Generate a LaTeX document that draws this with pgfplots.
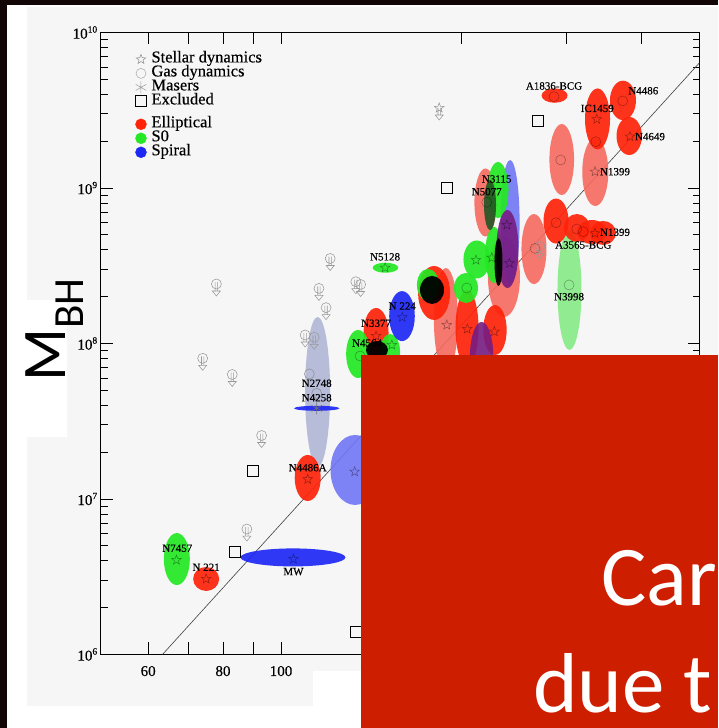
\documentclass[border=0pt]{standalone}
\usepackage{fontspec}
\setmainfont{Liberation Serif}[FakeBold=0.35]
\newfontfamily\carlito{Carlito}
\usepackage{pgfplots}
\pgfplotsset{compat=1.18}
\usetikzlibrary{plotmarks}
\definecolor{darkbg}{RGB}{18,6,6}
\definecolor{panel}{RGB}{246,246,246}
\definecolor{slidered}{RGB}{205,30,0}
\definecolor{elred}{RGB}{255,35,10}
\definecolor{salmon}{RGB}{245,106,95}
\definecolor{sogreen}{RGB}{35,232,35}
\definecolor{lgreen}{RGB}{140,235,140}
\definecolor{spblue}{RGB}{30,40,245}
\definecolor{medblue}{RGB}{112,118,245}
\definecolor{bgrey}{RGB}{180,185,216}
\definecolor{purp}{RGB}{118,28,130}
\definecolor{dkgreen}{RGB}{35,85,35}
\pgfdeclareplotmark{ell}{\pgfpathellipse{\pgfpointorigin}{\pgfqpoint{\rx pt}{0pt}}{\pgfqpoint{0pt}{\ry pt}}\pgfusepathqfill}
\pgfdeclareplotmark{ostar}{%
  \pgfpathmoveto{\pgfpointpolar{90}{\pgfplotmarksize}}%
  \pgfpathlineto{\pgfpointpolar{126}{0.42\pgfplotmarksize}}%
  \pgfpathlineto{\pgfpointpolar{162}{\pgfplotmarksize}}%
  \pgfpathlineto{\pgfpointpolar{198}{0.42\pgfplotmarksize}}%
  \pgfpathlineto{\pgfpointpolar{234}{\pgfplotmarksize}}%
  \pgfpathlineto{\pgfpointpolar{270}{0.42\pgfplotmarksize}}%
  \pgfpathlineto{\pgfpointpolar{306}{\pgfplotmarksize}}%
  \pgfpathlineto{\pgfpointpolar{342}{0.42\pgfplotmarksize}}%
  \pgfpathlineto{\pgfpointpolar{18}{\pgfplotmarksize}}%
  \pgfpathlineto{\pgfpointpolar{54}{0.42\pgfplotmarksize}}%
  \pgfpathclose\pgfusepathqstroke}
\pgfdeclareplotmark{ulim}{%
  \pgfpathcircle{\pgfpointorigin}{5pt}\pgfusepathqstroke
  \pgfpathmoveto{\pgfqpoint{-1.2pt}{2pt}}\pgfpathlineto{\pgfqpoint{-1.2pt}{-7pt}}%
  \pgfpathmoveto{\pgfqpoint{1.2pt}{2pt}}\pgfpathlineto{\pgfqpoint{1.2pt}{-7pt}}%
  \pgfpathmoveto{\pgfqpoint{-4pt}{-7pt}}\pgfpathlineto{\pgfqpoint{0pt}{-12pt}}\pgfpathlineto{\pgfqpoint{4pt}{-7pt}}\pgfpathclose
  \pgfusepathqstroke}
\pgfdeclareplotmark{sulim}{%
  \pgfuseplotmark{ostar}%
  \pgfpathmoveto{\pgfqpoint{-1.2pt}{0pt}}\pgfpathlineto{\pgfqpoint{-1.2pt}{-7pt}}%
  \pgfpathmoveto{\pgfqpoint{1.2pt}{0pt}}\pgfpathlineto{\pgfqpoint{1.2pt}{-7pt}}%
  \pgfpathmoveto{\pgfqpoint{-4pt}{-7pt}}\pgfpathlineto{\pgfqpoint{0pt}{-12pt}}\pgfpathlineto{\pgfqpoint{4pt}{-7pt}}\pgfpathclose
  \pgfusepathqstroke}
\newcommand\tp[1]{10\raisebox{6pt}{\fontsize{9.5}{9.5}\selectfont #1}}
\pgfplotsset{
  ellp/.style={only marks, scatter, mark=ell, forget plot,
    visualization depends on={value \thisrow{rx}\as\rx},
    visualization depends on={value \thisrow{ry}\as\ry},
    scatter/use mapped color={draw=none, fill=#1}},
}
\tikzset{lab/.style={font=\fontsize{11}{11}\selectfont, inner sep=0pt}}
\begin{document}
\begin{tikzpicture}[x=1pt,y=1pt]
\path[use as bounding box] (0,0) rectangle (718,728);
\fill[white] (0,0) rectangle (718,728);
\fill[darkbg] (0,0) rectangle (7,728);
\fill[darkbg] (0,723) rectangle (718,728);
\fill[panel] (27,22) rectangle (718,721);
\fill[white] (313,0) rectangle (361,57);
\fill[white] (27,291) rectangle (67,428);
\begin{axis}[
  at={(100.7pt,73.5pt)}, anchor=south west,
  scale only axis, width=599pt, height=622pt,
  xmode=log, ymode=log,
  xmin=50, xmax=500, ymin=1e6, ymax=1e10,
  xtick={60,70,80,90,100,200,300,400},
  xticklabels={60,,80,,100,,,},
  xminorticks=false,
  ytick={1e6,1e7,1e8,1e9,1e10},
  yticklabels={\tp{6},\tp{7},\tp{8},\tp{9},\tp{10}},
  minor ytick={2e6,3e6,4e6,5e6,6e6,7e6,8e6,9e6,2e7,3e7,4e7,5e7,6e7,7e7,8e7,9e7,2e8,3e8,4e8,5e8,6e8,7e8,8e8,9e8,2e9,3e9,4e9,5e9,6e9,7e9,8e9,9e9},
  tick align=inside,
  major tick length=12pt, minor tick length=7pt,
  every tick/.style={black, line width=0.8pt},
  axis line style={line width=0.9pt},
  tick label style={font=\fontsize{15}{15}\selectfont},
  xticklabel style={yshift=-8pt},
  legend style={at={(rel axis cs:0.053,0.968)}, anchor=north west, draw=none, fill=none,
    inner sep=0pt, outer sep=0pt, row sep=0pt,
    font=\fontsize{16.5}{16.5}\selectfont,
    nodes={inner sep=0pt, text height=10pt, text depth=4pt},
    /tikz/every odd column/.append style={column sep=5pt}},
  legend cell align=left,
]
% light / large ellipses
\addplot[ellp=bgrey, fill opacity=0.95] table {
x y rx ry
115.1 4.88e7 12.5 75
};
\addplot[ellp=lgreen, fill opacity=0.95] table {
x y rx ry
303.1 2.21e8 12 60
};
\addplot[ellp=salmon, fill opacity=0.9] table {
x y rx ry
188.5 1.416e8 12 52
235.6 2.677e8 16 40
264.4 4.05e8 12.5 35
294.2 1.525e9 12.3 35.5
334.7 1.267e9 13 34
219.4 8.07e8 11 34
};
\addplot[ellp=medblue, fill opacity=0.9] table {
x y rx ry
241.2 6.04e8 9.5 62
132.9 1.537e7 24.5 35
};
\addplot[ellp=elred, fill opacity=0.92] table {
x y rx ry
75.0 3.06e6 13 12
110.8 1.365e7 13 23
144.1 1.168e8 12.5 25
180.1 2.113e8 16 27
204.4 1.258e8 11.5 38
227.6 1.221e8 11.7 25
287.8 6.13e8 12.5 22.5
311.9 5.53e8 13 14
330.5 5.21e8 15 12
344.8 5.14e8 13 12
337.6 2.78e9 12.5 30.5
286.2 3.93e9 13 7.2
372.3 3.66e9 13 19.7
381.4 2.16e9 12.7 19
};
\addplot[ellp=sogreen, fill opacity=0.92] table {
x y rx ry
67.0 4.11e6 13 26
149.4 3.07e8 12.8 5
134.5 8.56e7 12 24
152.1 8.82e7 10 18
203.6 2.275e8 12 15
212.2 3.47e8 13.3 19
226.8 3.71e8 9 28
230.3 9.71e8 10.5 28
175.9 2.38e8 11 16
};
\addplot[ellp=spblue, fill opacity=0.92] table {
x y rx ry
104.7 4.21e6 52.5 9
159.2 1.50e8 12.8 25
114.7 3.83e7 22.7 2.5
};
\addplot[ellp=purp, fill opacity=0.9] table {
x y rx ry
238.8 4.05e8 11 39
216.2 8.19e7 11.7 35
};
\addplot[ellp=black, fill opacity=0.95] table {
x y rx ry
178.7 2.21e8 12 14
144.6 9.08e7 11 9
230.7 3.34e8 4 24
};
\addplot[ellp=dkgreen, fill opacity=0.9] table {
x y rx ry
223.3 7.78e8 6 25
};
% fit line
\addplot[forget plot, black!75, line width=0.6pt] coordinates {(63.4,1e6) (500,6.41e9)};
% stars on ellipses
\addplot[forget plot, only marks, mark=ostar, mark size=5pt, draw=black, draw opacity=0.4, line width=0.5pt] table {
x y
66.9 4.05e6
75.0 3.06e6
104.9 4.11e6
110.8 1.339e7
132.7 1.498e7
149.2 3.07e8
159.4 1.474e8
144.1 1.117e8
153.1 9.78e7
211.6 3.44e8
224.8 3.56e8
240.6 3.28e8
238.2 5.78e8
189.1 1.315e8
204.6 1.239e8
227.1 1.191e8
336.5 2.77e9
334.3 1.273e9
382.4 2.14e9
334.3 5.11e8
};
% circles on ellipses
\addplot[forget plot, only marks, mark=o, mark size=5pt, draw=black, draw opacity=0.35, line width=0.5pt] table {
x y
135.5 8.31e7
204.2 2.275e8
220.5 8.09e8
265.5 4.09e8
287.8 5.98e8
302.6 2.38e8
293.0 1.514e9
285.6 3.87e9
371.9 3.63e9
335.3 1.985e9
311.6 5.45e8
319.6 5.24e8
};
% gas dynamics (grey circles)
\addplot[forget plot, only marks, mark=o, mark size=5pt, draw=black!45, line width=0.5pt] table {
x y
111.5 6.37e7
114.7 4.78e7
};
% maser
\addplot[forget plot, only marks, mark=asterisk, mark size=6pt, draw=black!55, line width=0.5pt] coordinates {(114.7,3.83e7)};
% upper limits
\addplot[forget plot, only marks, mark=ulim, draw=black!40, line width=0.55pt] table {
x y
78.0 2.413e8
74.0 8.03e7
82.9 6.32e7
92.8 2.56e7
87.7 6.41e6
120.8 3.52e8
115.7 2.26e8
118.9 1.70e8
109.7 1.134e8
113.6 1.096e8
133.3 2.497e8
135.8 2.396e8
270.6 4.19e8
};
\addplot[forget plot, only marks, mark=sulim, mark size=5pt, draw=black!40, line width=0.55pt] coordinates {(183.7,3.27e9)};
% excluded
\addplot[forget plot, only marks, mark=square, mark size=5.5pt, draw=black, line width=0.9pt] table {
x y
189.3 1.0e9
268.3 2.71e9
89.9 1.514e7
83.8 4.54e6
133.5 1.40e6
};
% label anchors
\coordinate (L1) at (axis cs:67.1,4.82e6);
\coordinate (L2) at (axis cs:75.0,3.64e6);
\coordinate (L3) at (axis cs:104.9,3.41e6);
\coordinate (L4) at (axis cs:110.8,1.59e7);
\coordinate (L5) at (axis cs:114.7,5.55e7);
\coordinate (L6) at (axis cs:114.7,4.48e7);
\coordinate (L7) at (axis cs:149.2,3.61e8);
\coordinate (L8) at (axis cs:159.4,1.742e8);
\coordinate (L9) at (axis cs:144.1,1.349e8);
\coordinate (L10) at (axis cs:139.2,1.007e8);
\coordinate (L11) at (axis cs:229.1,1.143e9);
\coordinate (L12) at (axis cs:220.5,9.47e8);
\coordinate (L13) at (axis cs:285.6,4.53e9);
\coordinate (L14) at (axis cs:337.3,3.25e9);
\coordinate (L15) at (axis cs:402.5,4.22e9);
\coordinate (L16) at (axis cs:413.0,2.14e9);
\coordinate (L17) at (axis cs:361.1,1.273e9);
\coordinate (L18) at (axis cs:361.1,5.19e8);
\coordinate (L19) at (axis cs:319.6,4.30e8);
\coordinate (L20) at (axis cs:302.6,2.0e8);
% legend
\addlegendimage{only marks, mark=ostar, mark size=5pt, draw=black!45, line width=0.5pt}
\addlegendentry{Stellar dynamics}
\addlegendimage{only marks, mark=o, mark size=5pt, draw=black!35, line width=0.5pt}
\addlegendentry{Gas dynamics}
\addlegendimage{only marks, mark=asterisk, mark size=6pt, draw=black!40, line width=0.5pt}
\addlegendentry{Masers}
\addlegendimage{only marks, mark=square, mark size=5.5pt, draw=black, line width=0.9pt}
\addlegendentry{Excluded}
\addlegendimage{empty legend}
\addlegendentry[text height=4.5pt, text depth=4.4pt]{}
\addlegendimage{only marks, mark=*, mark size=5.5pt, draw=elred, fill=elred}
\addlegendentry{Elliptical}
\addlegendimage{only marks, mark=*, mark size=5.5pt, draw=sogreen, fill=sogreen}
\addlegendentry{S0}
\addlegendimage{only marks, mark=*, mark size=5.5pt, draw=spblue, fill=spblue}
\addlegendentry{Spiral}
\end{axis}
\node[lab] at (L1) {N7457};
\node[lab] at (L2) {N 221};
\node[lab] at (L3) {MW};
\node[lab] at (L4) {N4486A};
\node[lab] at (L5) {N2748};
\node[lab] at (L6) {N4258};
\node[lab] at (L7) {N5128};
\node[lab] at (L8) {N 224};
\node[lab] at (L9) {N3377};
\node[lab] at (L10) {N4564};
\node[lab] at (L11) {N3115};
\node[lab] at (L12) {N5077};
\node[lab] at (L13) {A1836-BCG};
\node[lab] at (L14) {IC1459};
\node[lab] at (L15) {N4486};
\node[lab] at (L16) {N4649};
\node[lab] at (L17) {N1399};
\node[lab] at (L18) {N1399};
\node[lab] at (L19) {A3565-BCG};
\node[lab] at (L20) {N3998};
\node[rotate=90, anchor=base west, inner sep=0pt, font=\carlito] at (65,346)
  {\fontsize{62}{62}\selectfont M\raisebox{-18pt}{\fontsize{43}{43}\selectfont BH}};
\fill[slidered] (361,0) rectangle (718,373);
\node[anchor=base west, inner sep=0pt, text=white, font=\carlito\fontsize{85}{85}\selectfont] at (601,122) {Car};
\node[anchor=base west, inner sep=0pt, text=white, font=\carlito\fontsize{85}{85}\selectfont] at (533,16) {due t};
\end{tikzpicture}
\end{document}
